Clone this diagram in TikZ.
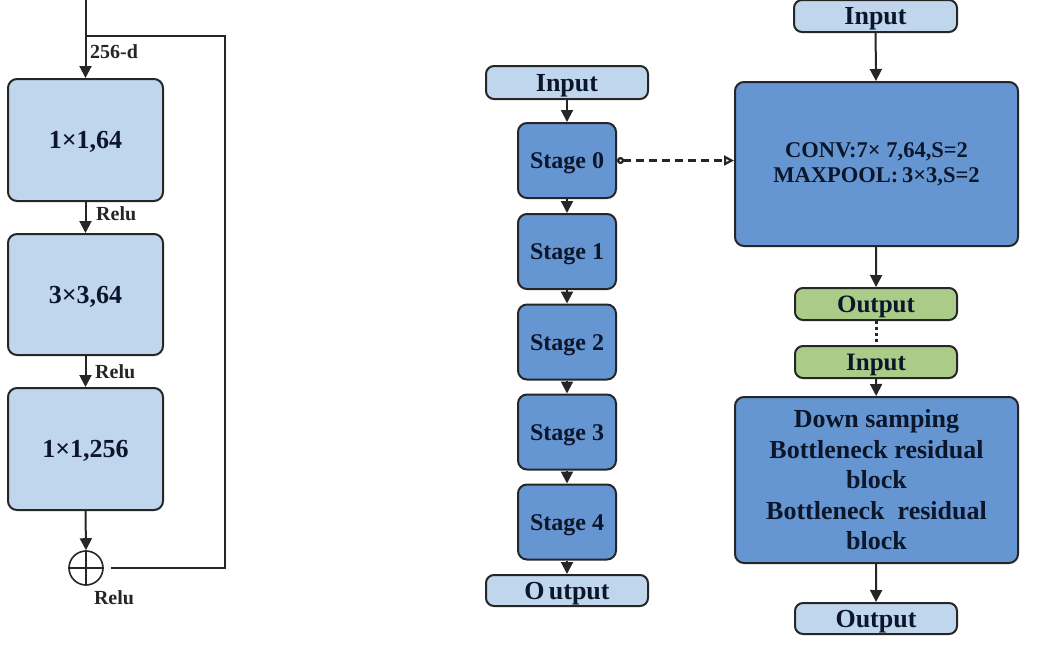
\documentclass[tikz,border=0pt]{standalone}
\usepackage{fontspec}
\setmainfont{Liberation Serif}
\usetikzlibrary{arrows.meta}
\definecolor{lblue}{RGB}{192,214,236}
\definecolor{mblue}{RGB}{102,150,210}
\definecolor{lgreen}{RGB}{170,204,136}
\definecolor{tcol}{RGB}{12,22,42}
\begin{document}
\begin{tikzpicture}[x=1pt,y=-1pt,
  box/.style={draw=black!85,line width=2pt,rounded corners=9pt,text=tcol,font=\bfseries,inner sep=0pt,align=center},
  one/.style={text height=#1,text depth=0pt},
  lbox/.style={box,fill=lblue},
  sbox/.style={box,fill=mblue},
  gbox/.style={box,fill=lgreen},
  arr/.style={line width=2pt,draw=black!85,-{Triangle[length=12pt,width=12pt]}},
  ln/.style={line width=2pt,draw=black!85},
  lab/.style={font=\bfseries,text=black!85,inner sep=0pt}]
\useasboundingbox (0,0) rectangle (1039,649);
% left block
\node[lbox,one=17pt,minimum width=155pt,minimum height=122pt,font=\bfseries\fontsize{26}{28}\selectfont] (b1) at (85.5,140) {1×1,64};
\node[lbox,one=17pt,minimum width=155pt,minimum height=121pt,font=\bfseries\fontsize{26}{28}\selectfont] (b2) at (85.5,294.5) {3×3,64};
\node[lbox,one=17pt,minimum width=155pt,minimum height=122pt,font=\bfseries\fontsize{26}{28}\selectfont] (b3) at (85.5,449) {1×1,256};
\node[draw=black!85,line width=1.6pt,circle,minimum size=34pt,inner sep=0pt] (sum) at (86,568) {};
\draw[line width=1.4pt,black!85] (sum.north) -- (sum.south) (sum.west) -- (sum.east);
\coordinate (top) at (85.5,0);
\coordinate (br) at (85.5,36);
\coordinate (c1) at (225,36);
\coordinate (c2) at (225,568);
\draw[arr] (top) -- (b1.north);
\draw[ln] (br) -- (c1) -- (c2) -- ([xshift=7pt]sum.east);
\draw[arr] (b1.south) -- (b2.north);
\draw[arr] (b2.south) -- (b3.north);
\draw[arr] (b3.south) -- (sum.north);
\node[lab,font=\bfseries\fontsize{20}{22}\selectfont,anchor=west] (l256) at (90,52) {256-d};
\node[lab,font=\bfseries\fontsize{20}{22}\selectfont,anchor=west] (r1) at (96,214) {Relu};
\node[lab,font=\bfseries\fontsize{20}{22}\selectfont,anchor=west] (r2) at (95,372) {Relu};
\node[lab,font=\bfseries\fontsize{20}{22}\selectfont] (r3) at (114,598) {Relu};
% middle column
\node[lbox,one=17pt,minimum width=162pt,minimum height=33pt,rounded corners=8pt,font=\bfseries\fontsize{26}{28}\selectfont] (in1) at (567,82.5) {Input};
\node[sbox,one=16pt,minimum width=98pt,minimum height=75pt,font=\bfseries\fontsize{24}{26}\selectfont] (s0) at (567,160.5) {Stage 0};
\node[sbox,one=16pt,minimum width=98pt,minimum height=75pt,font=\bfseries\fontsize{24}{26}\selectfont] (s1) at (567,251.5) {Stage 1};
\node[sbox,one=16pt,minimum width=98pt,minimum height=75pt,font=\bfseries\fontsize{24}{26}\selectfont] (s2) at (567,342) {Stage 2};
\node[sbox,one=16pt,minimum width=98pt,minimum height=75pt,font=\bfseries\fontsize{24}{26}\selectfont] (s3) at (567,432) {Stage 3};
\node[sbox,one=16pt,minimum width=98pt,minimum height=75pt,font=\bfseries\fontsize{24}{26}\selectfont] (s4) at (567,522) {Stage 4};
\node[lbox,one=17pt,minimum width=162pt,minimum height=31pt,rounded corners=8pt,font=\bfseries\fontsize{26}{28}\selectfont] (out1) at (567,590.5) {O\,utput};
\draw[arr] (in1) -- (s0);
\draw[arr] (s0) -- (s1);
\draw[arr] (s1) -- (s2);
\draw[arr] (s2) -- (s3);
\draw[arr] (s3) -- (s4);
\draw[arr] (s4) -- (out1);
% right column
\node[lbox,one=17pt,minimum width=163pt,minimum height=32pt,rounded corners=8pt,font=\bfseries\fontsize{26}{28}\selectfont] (in2) at (875.5,16) {Input};
\node[sbox,minimum width=283pt,minimum height=164pt,font=\bfseries\fontsize{22.5}{25}\selectfont] (conv) at (876.5,164) {CONV:7×\ 7,64,S=2\\MAXPOOL:\,3×3,S=2};
\node[gbox,one=16.5pt,minimum width=162pt,minimum height=32pt,rounded corners=8pt,font=\bfseries\fontsize{25}{27}\selectfont] (go) at (876,304) {Output};
\node[gbox,one=16.5pt,minimum width=162pt,minimum height=32pt,rounded corners=8pt,font=\bfseries\fontsize{25}{27}\selectfont] (gi) at (876,362) {Input};
\node[sbox,minimum width=283pt,minimum height=166pt,font=\bfseries\fontsize{26}{30.5}\selectfont] (down) at (876.5,480) {Down samping\\Bottleneck residual\\block\\Bottleneck\ \ residual\\block};
\node[lbox,one=17pt,minimum width=162pt,minimum height=31pt,rounded corners=8pt,font=\bfseries\fontsize{26}{28}\selectfont] (out2) at (876,618.5) {Output};
\draw[arr] (in2) -- (conv);
\draw[arr] (conv) -- (go);
\draw[line width=3pt,black!85,dash pattern=on 3pt off 3pt] (go) -- (gi);
\draw[arr] (gi) -- (down);
\draw[arr] (down) -- (out2);
% dashed link
\draw[line width=2.2pt,black!85,dash pattern=on 8pt off 5pt,{Circle[open,length=7pt,width=7pt]}-{Triangle[open,length=10pt,width=10pt]}] (s0.east) -- (conv.west |- s0.east);
\end{tikzpicture}
\end{document}
